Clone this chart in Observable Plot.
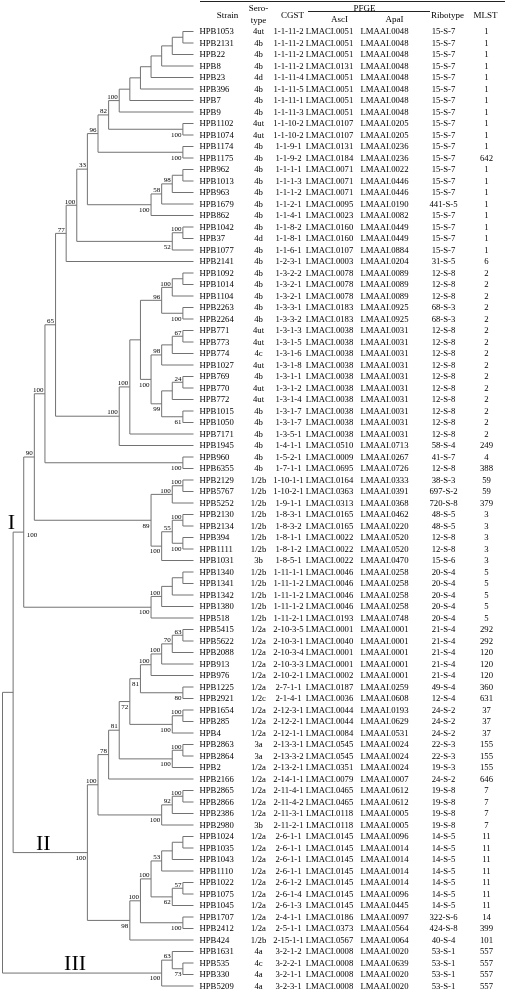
<!DOCTYPE html>
<html><head><meta charset="utf-8">
<script src="https://cdn.jsdelivr.net/npm/d3@7"></script>
<script src="https://cdn.jsdelivr.net/npm/@observablehq/plot@0.6"></script>
<style>
html,body{margin:0;padding:0;background:#fff;}
#chart svg{display:block;filter:grayscale(1);}
</style></head><body><div id="chart"></div>
<script>
// ---------- table data (one entry per row, top to bottom) ----------
const strains = ["HPB1053","HPB2131","HPB22","HPB8","HPB23","HPB396","HPB7","HPB9","HPB1102","HPB1074",
"HPB1174","HPB1175","HPB962","HPB1013","HPB963","HPB1679","HPB862","HPB1042","HPB37","HPB1077",
"HPB2141","HPB1092","HPB1014","HPB1104","HPB2263","HPB2264","HPB771","HPB773","HPB774","HPB1027",
"HPB769","HPB770","HPB772","HPB1015","HPB1050","HPB7171","HPB1945","HPB960","HPB6355",
"HPB2129","HPB5767","HPB5252","HPB2130","HPB2134","HPB394","HPB1111","HPB1031",
"HPB1340","HPB1341","HPB1342","HPB1380","HPB518",
"HPB5415","HPB5622","HPB2088","HPB913","HPB976","HPB1225","HPB2921","HPB1654","HPB285","HPB4",
"HPB2863","HPB2864","HPB2","HPB2166","HPB2865","HPB2866","HPB2386","HPB2980",
"HPB1024","HPB1035","HPB1043","HPB1110","HPB1022","HPB1075","HPB1045","HPB1707","HPB2412","HPB424",
"HPB1631","HPB535","HPB330","HPB5209"];

const serotypes = ["4ut","4b","4b","4b","4d","4b","4b","4b","4ut","4ut",
"4b","4b","4b","4b","4b","4b","4b","4b","4d","4b",
"4b","4b","4b","4b","4b","4b","4ut","4ut","4c","4ut",
"4b","4ut","4ut","4b","4b","4b","4b","4b","4b",
"1/2b","1/2b","1/2b","1/2b","1/2b","1/2b","1/2b","3b",
"1/2b","1/2b","1/2b","1/2b","1/2b",
"1/2a","1/2a","1/2a","1/2a","1/2a","1/2a","1/2c","1/2a","1/2a","1/2a",
"3a","3a","1/2a","1/2a","1/2a","1/2a","1/2a","3b",
"1/2a","1/2a","1/2a","1/2a","1/2a","1/2a","1/2a","1/2a","1/2a","1/2b",
"4a","4c","4a","4a"];

const cgst = ["1-1-11-2","1-1-11-2","1-1-11-2","1-1-11-2","1-1-11-4","1-1-11-5","1-1-11-1","1-1-11-3","1-1-10-2","1-1-10-2",
"1-1-9-1","1-1-9-2","1-1-1-1","1-1-1-3","1-1-1-2","1-1-2-1","1-1-4-1","1-1-8-2","1-1-8-1","1-1-6-1",
"1-2-3-1","1-3-2-2","1-3-2-1","1-3-2-1","1-3-3-1","1-3-3-2","1-3-1-3","1-3-1-5","1-3-1-6","1-3-1-8",
"1-3-1-1","1-3-1-2","1-3-1-4","1-3-1-7","1-3-1-7","1-3-5-1","1-4-1-1","1-5-2-1","1-7-1-1",
"1-10-1-1","1-10-2-1","1-9-1-1","1-8-3-1","1-8-3-2","1-8-1-1","1-8-1-2","1-8-5-1",
"1-11-1-1","1-11-1-2","1-11-1-2","1-11-1-2","1-11-2-1",
"2-10-3-5","2-10-3-1","2-10-3-4","2-10-3-3","2-10-2-1","2-7-1-1","2-1-4-1","2-12-3-1","2-12-2-1","2-12-1-1",
"2-13-3-1","2-13-3-2","2-13-2-1","2-14-1-1","2-11-4-1","2-11-4-2","2-11-3-1","2-11-2-1",
"2-6-1-1","2-6-1-1","2-6-1-1","2-6-1-1","2-6-1-2","2-6-1-4","2-6-1-3","2-4-1-1","2-5-1-1","2-15-1-1",
"3-2-1-2","3-2-2-1","3-2-1-1","3-2-3-1"];

const ascI = ["LMACI.0051","LMACI.0051","LMACI.0051","LMACI.0131","LMACI.0051","LMACI.0051","LMACI.0051","LMACI.0051","LMACI.0107","LMACI.0107",
"LMACI.0131","LMACI.0184","LMACI.0071","LMACI.0071","LMACI.0071","LMACI.0095","LMACI.0023","LMACI.0160","LMACI.0160","LMACI.0107",
"LMACI.0003","LMACI.0078","LMACI.0078","LMACI.0078","LMACI.0183","LMACI.0183","LMACI.0038","LMACI.0038","LMACI.0038","LMACI.0038",
"LMACI.0038","LMACI.0038","LMACI.0038","LMACI.0038","LMACI.0038","LMACI.0038","LMACI.0510","LMACI.0009","LMACI.0695",
"LMACI.0164","LMACI.0363","LMACI.0313","LMACI.0165","LMACI.0165","LMACI.0022","LMACI.0022","LMACI.0022",
"LMACI.0046","LMACI.0046","LMACI.0046","LMACI.0046","LMACI.0193",
"LMACI.0001","LMACI.0040","LMACI.0001","LMACI.0001","LMACI.0002","LMACI.0187","LMACI.0036","LMACI.0044","LMACI.0044","LMACI.0084",
"LMACI.0545","LMACI.0545","LMACI.0351","LMACI.0079","LMACI.0465","LMACI.0465","LMACI.0118","LMACI.0118",
"LMACI.0145","LMACI.0145","LMACI.0145","LMACI.0145","LMACI.0145","LMACI.0145","LMACI.0145","LMACI.0186","LMACI.0373","LMACI.0567",
"LMACI.0008","LMACI.0008","LMACI.0008","LMACI.0008"];

const apaI = ["LMAAI.0048","LMAAI.0048","LMAAI.0048","LMAAI.0048","LMAAI.0048","LMAAI.0048","LMAAI.0048","LMAAI.0048","LMAAI.0205","LMAAI.0205",
"LMAAI.0236","LMAAI.0236","LMAAI.0022","LMAAI.0446","LMAAI.0446","LMAAI.0190","LMAAI.0082","LMAAI.0449","LMAAI.0449","LMAAI.0884",
"LMAAI.0204","LMAAI.0089","LMAAI.0089","LMAAI.0089","LMAAI.0925","LMAAI.0925","LMAAI.0031","LMAAI.0031","LMAAI.0031","LMAAI.0031",
"LMAAI.0031","LMAAI.0031","LMAAI.0031","LMAAI.0031","LMAAI.0031","LMAAI.0031","LMAAI.0713","LMAAI.0267","LMAAI.0726",
"LMAAI.0333","LMAAI.0391","LMAAI.0368","LMAAI.0462","LMAAI.0220","LMAAI.0520","LMAAI.0520","LMAAI.0470",
"LMAAI.0258","LMAAI.0258","LMAAI.0258","LMAAI.0258","LMAAI.0748",
"LMAAI.0001","LMAAI.0001","LMAAI.0001","LMAAI.0001","LMAAI.0001","LMAAI.0259","LMAAI.0608","LMAAI.0193","LMAAI.0629","LMAAI.0531",
"LMAAI.0024","LMAAI.0024","LMAAI.0024","LMAAI.0007","LMAAI.0612","LMAAI.0612","LMAAI.0005","LMAAI.0005",
"LMAAI.0096","LMAAI.0014","LMAAI.0014","LMAAI.0014","LMAAI.0014","LMAAI.0096","LMAAI.0445","LMAAI.0097","LMAAI.0564","LMAAI.0064",
"LMAAI.0020","LMAAI.0639","LMAAI.0020","LMAAI.0020"];

const ribotypes = ["15-S-7","15-S-7","15-S-7","15-S-7","15-S-7","15-S-7","15-S-7","15-S-7","15-S-7","15-S-7",
"15-S-7","15-S-7","15-S-7","15-S-7","15-S-7","441-S-5","15-S-7","15-S-7","15-S-7","15-S-7",
"31-S-5","12-S-8","12-S-8","12-S-8","68-S-3","68-S-3","12-S-8","12-S-8","12-S-8","12-S-8",
"12-S-8","12-S-8","12-S-8","12-S-8","12-S-8","12-S-8","58-S-4","41-S-7","12-S-8",
"38-S-3","697-S-2","720-S-8","48-S-5","48-S-5","12-S-8","12-S-8","15-S-6",
"20-S-4","20-S-4","20-S-4","20-S-4","20-S-4",
"21-S-4","21-S-4","21-S-4","21-S-4","21-S-4","49-S-4","12-S-4","24-S-2","24-S-2","24-S-2",
"22-S-3","22-S-3","19-S-3","24-S-2","19-S-8","19-S-8","19-S-8","19-S-8",
"14-S-5","14-S-5","14-S-5","14-S-5","14-S-5","14-S-5","14-S-5","322-S-6","424-S-8","40-S-4",
"53-S-1","53-S-1","53-S-1","53-S-1"];

const mlst = ["1","1","1","1","1","1","1","1","1","1",
"1","642","1","1","1","1","1","1","1","1",
"6","2","2","2","2","2","2","2","2","2",
"2","2","2","2","2","2","249","4","388",
"59","59","379","3","3","3","3","3",
"5","5","5","5","5",
"292","292","120","120","120","360","631","37","37","37",
"155","155","155","646","7","7","7","7",
"11","11","11","11","11","11","11","14","399","101",
"557","557","557","557"];

const headerLabels = ["Strain","Sero-\ntype","CGST","PFGE","AscI","ApaI","Ribotype","MLST"];

// ---------- dendrogram: merges [node, upper child, lower child, bootstrap] ----------
const merges = [
["a1","HPB1053","HPB2131",null],["a2","a1","HPB22",null],["a3","a2","HPB8",null],["a4","a3","HPB23",null],
["a5","a4","HPB396",null],["a6","a5","HPB7",null],["a7","a6","HPB9",100],["a8","HPB1102","HPB1074",100],
["a9","a7","a8",82],["a10","HPB1174","HPB1175",100],["a11","a9","a10",96],
["b1","HPB962","HPB1013",null],["b2","b1","HPB963",98],["b3","b2","HPB1679",58],["b4","b3","HPB862",100],
["a12","a11","b4",33],["c1","HPB1042","HPB37",100],["c2","c1","HPB1077",52],["a13","a12","c2",100],
["a14","a13","HPB2141",77],
["d1","HPB1092","HPB1014",null],["d2","d1","HPB1104",100],["d3","HPB2263","HPB2264",100],["d4","d2","d3",96],
["e1","HPB771","HPB773",67],["e2","e1","HPB774",null],["e3","e2","HPB1027",98],
["f1","HPB769","HPB770",24],["f2","f1","HPB772",null],["f3","HPB1015","HPB1050",61],["f4","f2","f3",99],
["e4","e3","f4",100],["g1","d4","e4",null],["g2","g1","HPB7171",100],["g3","g2","HPB1945",100],
["h0","a14","g3",65],["i1","HPB960","HPB6355",100],["j0","h0","i1",100],
["k1","HPB2129","HPB5767",100],["k2","k1","HPB5252",100],
["l1","HPB2130","HPB2134",100],["l2","HPB394","HPB1111",100],["l3","l1","l2",55],["l4","l3","HPB1031",100],
["k3","k2","l4",89],["m0","j0","k3",90],
["n1","HPB1340","HPB1341",null],["n2","n1","HPB1342",null],["n3","n2","HPB1380",100],["n4","n3","HPB518",100],
["I","m0","n4",100],
["o1","HPB5415","HPB5622",63],["o2","o1","HPB2088",70],["o3","o2","HPB913",100],["o4","o3","HPB976",100],
["p1","HPB1225","HPB2921",80],["o5","o4","p1",81],["q1","HPB1654","HPB285",100],["q2","q1","HPB4",100],
["o6","o5","q2",72],["r1","HPB2863","HPB2864",100],["r2","r1","HPB2",100],["o7","o6","r2",81],
["o8","o7","HPB2166",78],["s1","HPB2865","HPB2866",100],["s2","s1","HPB2386",92],["s3","s2","HPB2980",100],
["o9","o8","s3",100],
["t1","HPB1024","HPB1035",null],["t2","t1","HPB1043",null],["t3","t2","HPB1110",53],
["t4","HPB1022","HPB1075",57],["t5","t4","HPB1045",62],["t6","t3","t5",100],
["u1","HPB1707","HPB2412",100],["t7","t6","u1",100],["t8","t7","HPB424",98],
["II","o9","t8",100],
["v1","HPB535","HPB330",73],["v2","HPB1631","v1",63],["III","v2","HPB5209",100],
["I+II","I","II",null],["root","I+II","III",null]
];
const cladeNames = ["I","II","III"];

// ---------- layout (styling only) ----------
const supportBelow = new Set(["a8","a10","b4","c2","d3","e4","f3","f4","i1","l2","l4","k3","n4",
  "p1","o5","q2","o6","r2","s3","t5","u1","t8","II","v1","III"]);
const supportRight = new Set(["I"]);
const FONT = "'Liberation Serif','Times New Roman',Times,serif";
const TIP_PX = 193;
const ROW_FS = 8.7;
const colCenters = [258, 288, 329, 384, 443, 486];
const columns = [serotypes, cgst, ascI, apaI, ribotypes, mlst];
const headerPos = [[227,14],[258,13],[292,14],[364,7],[339,18],[394,18],[447,14],[485,14]];

// ---------- build tree ----------
const nodes = new Map();
strains.forEach((s, i) => nodes.set(s, {id: s, leaf: true, row: i + 1, height: 0}));
for (const [id, a, b, sup] of merges) {
  const A = nodes.get(a), B = nodes.get(b);
  const n = {id, leaf: false, children: [A, B], support: sup,
    height: 1 + Math.max(A.height, B.height), row: (A.row + B.row) / 2};
  A.parent = n; B.parent = n;
  nodes.set(id, n);
}
const root = nodes.get("root");
const H = root.height;
for (const n of nodes.values()) n.level = H - n.height;

const segs = [];
for (const [id] of merges) {
  const n = nodes.get(id);
  const [A, B] = n.children;
  segs.push({x1: n.level, x2: n.level, y1: A.row, y2: B.row});
  for (const c of n.children) segs.push({x1: n.level, x2: c.level, y1: c.row, y2: c.row});
}
const supNodes = merges.map(m => nodes.get(m[0])).filter(n => n.support != null);
const above = supNodes.filter(n => !supportBelow.has(n.id) && !supportRight.has(n.id));
const below = supNodes.filter(n => supportBelow.has(n.id));
const right = supNodes.filter(n => supportRight.has(n.id));
const clades = cladeNames.map(c => nodes.get(c));

const rows = strains.map((s, i) => ({strain: s, row: i + 1}));

const marks = [
  Plot.link(segs, {x1: "x1", y1: "y1", x2: "x2", y2: "y2", stroke: "#727272", strokeWidth: 1}),
  Plot.text(above, {x: "level", y: "row", text: "support", textAnchor: "end", dx: -1.5, dy: -4, fontSize: 7, fill: "#000"}),
  Plot.text(below, {x: "level", y: "row", text: "support", textAnchor: "end", dx: -1.5, dy: 5, fontSize: 7, fill: "#000"}),
  Plot.text(right, {x: "level", y: "row", text: "support", textAnchor: "start", dx: 3, dy: 3, fontSize: 7, fill: "#000"}),
  Plot.text(clades, {x: d => (d.level + d.parent.level) / 2, y: "row", text: "id", lineAnchor: "bottom",
    dx: -7, dy: -3, fontSize: 22, fill: "#000"}),
  Plot.text(rows, {x: () => H, y: "row", text: "strain", textAnchor: "start", dx: 6, fontSize: ROW_FS, fill: "#000"})
];
columns.forEach((vals, k) => {
  marks.push(Plot.text(vals, {x: () => H, y: (d, i) => i + 1, text: d => d, textAnchor: "middle",
    dx: colCenters[k] - TIP_PX, fontSize: ROW_FS, fill: "#000"}));
});
headerLabels.forEach((lab, k) => {
  marks.push(Plot.text([lab], {x: () => H, text: d => d, frameAnchor: "top", lineAnchor: "middle", textAnchor: "middle",
    dx: headerPos[k][0] - TIP_PX, dy: headerPos[k][1], fontSize: 9, lineHeight: 1.3, fill: "#000"}));
});

const chart = Plot.plot({
  width: 505, height: 992, margin: 0,
  x: {domain: [0, H], range: [2, TIP_PX], axis: null},
  y: {domain: [1, strains.length], range: [31, 985.5], axis: null},
  style: {fontFamily: FONT, background: "#fff"},
  marks
});
const svg = d3.select(chart);
svg.append("line").attr("x1", 200).attr("x2", 505).attr("y1", 1.5).attr("y2", 1.5).attr("stroke", "#222").attr("stroke-width", 1);
svg.append("line").attr("x1", 308).attr("x2", 430).attr("y1", 11.5).attr("y2", 11.5).attr("stroke", "#222").attr("stroke-width", 1);
document.getElementById("chart").appendChild(chart);
</script></body></html>
